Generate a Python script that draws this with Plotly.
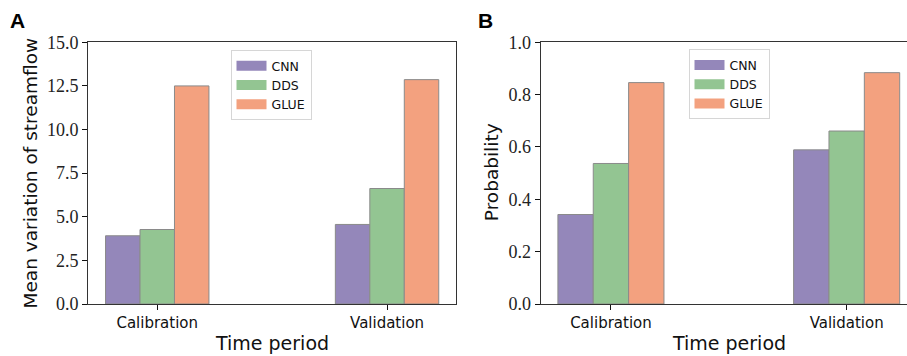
import plotly.graph_objects as go

periods = ["Calibration", "Validation"]
methods = ["CNN", "DDS", "GLUE"]
colors = ["#9487BA", "#93C592", "#F3A17F"]
streamflow = {"CNN": [3.91, 4.56], "DDS": [4.27, 6.62], "GLUE": [12.5, 12.86]}
probability = {"CNN": [0.342, 0.589], "DDS": [0.537, 0.661], "GLUE": [0.846, 0.884]}
yticks_a = [0.0, 2.5, 5.0, 7.5, 10.0, 12.5, 15.0]
yticks_b = [0.0, 0.2, 0.4, 0.6, 0.8, 1.0]

W, H = 907, 356
fig = go.Figure()

for m, c in zip(methods, colors):
    fig.add_trace(go.Bar(x=periods, y=streamflow[m], name=m, marker=dict(color=c, line=dict(color="#8a8a8a", width=1)),
                         xaxis="x", yaxis="y", showlegend=False))
    fig.add_trace(go.Bar(x=periods, y=probability[m], name=m, marker=dict(color=c, line=dict(color="#8a8a8a", width=1)),
                         xaxis="x2", yaxis="y2", showlegend=False))
    # legend patches
    fig.add_trace(go.Scatter(x=[None], y=[None], mode="lines", name=m, line=dict(color=c, width=10),
                             xaxis="x", yaxis="y", legend="legend"))
    fig.add_trace(go.Scatter(x=[None], y=[None], mode="lines", name=m, line=dict(color=c, width=10),
                             xaxis="x2", yaxis="y2", legend="legend2"))

ydom = [1 - 304 / H, 1 - 42.3 / H]
axline = dict(showline=True, linecolor="#333333", linewidth=1.3, ticks="outside", ticklen=5,
              tickwidth=1.3, tickcolor="#111111", showgrid=False, zeroline=False, automargin=False)
xfont = dict(family="DejaVu Sans", size=15, color="#111111")
yfont = dict(family="'Liberation Serif', 'Times New Roman', 'DejaVu Serif', serif", size=18, color="#222222")

fig.update_layout(
    width=W, height=H, margin=dict(l=0, r=0, t=0, b=0, autoexpand=False),
    paper_bgcolor="white", plot_bgcolor="white",
    barmode="group", bargap=0.55, bargroupgap=0,
    xaxis=dict(domain=[88.3 / W, 456 / W], range=[-0.3, 1.3], mirror=True, tickfont=xfont, **axline),
    yaxis=dict(domain=ydom, range=[0, 15], tickvals=yticks_a, ticktext=[f"{v:.1f}" for v in yticks_a],
               mirror=True, tickfont=yfont, **axline),
    xaxis2=dict(domain=[540.7 / W, 1.0], range=[-0.298, 1.256], mirror=True, anchor="y2", tickfont=xfont, **axline),
    yaxis2=dict(domain=ydom, range=[0, 1.0], tickvals=yticks_b, ticktext=[f"{v:.1f}" for v in yticks_b],
                anchor="x2", tickfont=yfont, **axline),
    legend=dict(x=271 / W, y=1 - 50 / H, xanchor="center", yanchor="top", bgcolor="white",
                bordercolor="#d6d6d6", borderwidth=1, font=dict(family="DejaVu Sans", size=12.5, color="#111"),
                itemwidth=30, tracegroupgap=0),
    legend2=dict(x=729 / W, y=1 - 49.3 / H, xanchor="center", yanchor="top", bgcolor="white",
                 bordercolor="#d6d6d6", borderwidth=1, font=dict(family="DejaVu Sans", size=12.5, color="#111"),
                 itemwidth=30, tracegroupgap=0),
)

ann = [
    dict(text="<b>A</b>", x=8 / W, y=1 - 21 / H, xanchor="left", yanchor="middle", font=dict(family="Liberation Sans", size=21, color="black")),
    dict(text="<b>B</b>", x=476 / W, y=1 - 21 / H, xanchor="left", yanchor="middle", font=dict(family="Liberation Sans", size=21, color="black")),
    dict(text="Time period", x=272 / W, y=1 - 343 / H, xanchor="center", yanchor="middle", font=dict(family="DejaVu Sans", size=19, color="#111")),
    dict(text="Time period", x=728.5 / W, y=1 - 343 / H, xanchor="center", yanchor="middle", font=dict(family="DejaVu Sans", size=19, color="#111")),
    dict(text="Mean variation of streamflow", x=30 / W, y=1 - 173.5 / H, textangle=-90, xanchor="center", yanchor="middle",
         font=dict(family="DejaVu Sans", size=18.5, color="#111")),
    dict(text="Probability", x=491.7 / W, y=1 - 172.5 / H, textangle=-90, xanchor="center", yanchor="middle",
         font=dict(family="DejaVu Sans", size=18.5, color="#111")),
]
for a in ann:
    a.update(xref="paper", yref="paper", showarrow=False)
fig.update_layout(annotations=ann)

fig.write_html("out.html", config={"displayModeBar": False},
               post_script="document.body.style.margin='0';document.body.style.overflow='hidden';")
